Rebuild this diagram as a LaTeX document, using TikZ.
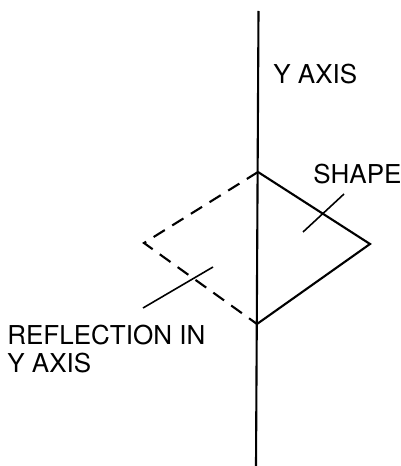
\documentclass[tikz,border=0pt]{standalone}
\usepackage{fontspec}
\setmainfont{TeX Gyre Heros}
\usepackage{tikz}
\usetikzlibrary{calc}

\begin{document}
\begin{tikzpicture}[
x=0.02cm,
y=-0.02cm,
every node/.style={font=\fontsize{14.8}{16}\selectfont},
raxis/.style={draw,line width=1.2pt},
rshape/.style={draw,line width=1.2pt,line join=miter},
rreflect/.style={draw,line width=1.2pt,dash pattern=on 7.5pt off 5pt},
rlead/.style={draw,line width=0.9pt},
rlabel/.style={align=left,inner sep=0pt,anchor=west}
]
\useasboundingbox (0,0) rectangle (400,466);

\coordinate (axtop) at (258.5,11);
\coordinate (axbot) at (256,466);
\coordinate (top) at (258,172);
\coordinate (right) at (370,244);
\coordinate (bot) at (257,324);
\coordinate (left) at (144,243);

\draw[raxis] (axtop) -- (axbot);
\draw[rshape] (top) -- (right) -- (bot);
\draw[rreflect] (top) -- (left) -- (bot);

\coordinate (sa) at (303,232);
\coordinate (sb) at (344,194);
\coordinate (ra) at (143,308);
\coordinate (rb) at (213,267);
\draw[rlead] (sa) -- (sb);
\draw[rlead] (ra) -- (rb);

\node[rlabel] (yaxis) at (273,74) {Y AXIS};
\node[rlabel] (shape) at (313,174) {SHAPE};
\node[rlabel,anchor=north west] (refl) at (7,325) {REFLECTION IN\\Y AXIS};
\end{tikzpicture}
\end{document}
